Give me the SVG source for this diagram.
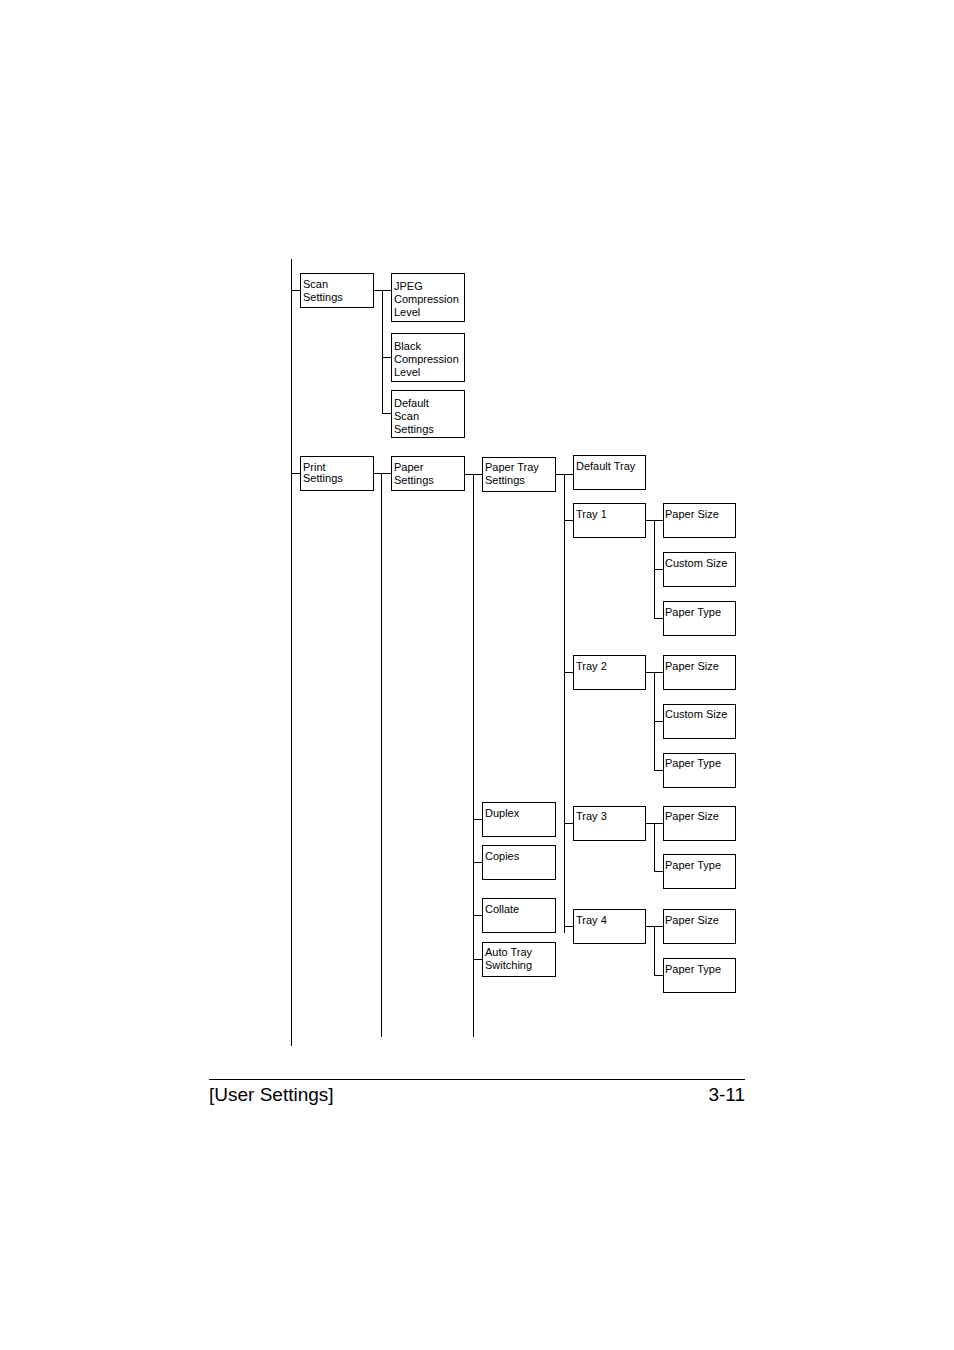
<svg xmlns="http://www.w3.org/2000/svg" width="954" height="1350" viewBox="0 0 954 1350">
<style>
rect{fill:#fff;stroke:#000;stroke-width:1}
text{font-family:"Liberation Sans",Arial,sans-serif;font-size:11px;fill:#000}
.c line{stroke:#000;stroke-width:1}
.f{font-size:19px}
</style>
<rect x="0" y="0" width="954" height="1350" style="stroke:none"/>
<g class="c">
<line x1="291.5" y1="259" x2="291.5" y2="1046"/>
<line x1="291" y1="290.5" x2="300" y2="290.5"/>
<line x1="373" y1="290.5" x2="391" y2="290.5"/>
<line x1="382.5" y1="290" x2="382.5" y2="413"/>
<line x1="382" y1="357.5" x2="391" y2="357.5"/>
<line x1="382" y1="413.5" x2="391" y2="413.5"/>
<line x1="291" y1="473.5" x2="300" y2="473.5"/>
<line x1="373" y1="473.5" x2="391" y2="473.5"/>
<line x1="381.5" y1="473" x2="381.5" y2="1037"/>
<line x1="464" y1="474.5" x2="482" y2="474.5"/>
<line x1="473.5" y1="474" x2="473.5" y2="1037"/>
<line x1="473" y1="819.5" x2="482" y2="819.5"/>
<line x1="473" y1="862.5" x2="482" y2="862.5"/>
<line x1="473" y1="915.5" x2="482" y2="915.5"/>
<line x1="473" y1="959.5" x2="482" y2="959.5"/>
<line x1="555" y1="474.5" x2="573" y2="474.5"/>
<line x1="564.5" y1="474" x2="564.5" y2="933"/>
<line x1="564" y1="520.5" x2="573" y2="520.5"/>
<line x1="564" y1="672.5" x2="573" y2="672.5"/>
<line x1="564" y1="823.5" x2="573" y2="823.5"/>
<line x1="564" y1="926.5" x2="573" y2="926.5"/>
<line x1="645" y1="520.5" x2="663" y2="520.5"/>
<line x1="654.5" y1="520" x2="654.5" y2="618"/>
<line x1="654" y1="569.5" x2="663" y2="569.5"/>
<line x1="654" y1="618.5" x2="663" y2="618.5"/>
<line x1="645" y1="672.5" x2="663" y2="672.5"/>
<line x1="654.5" y1="672" x2="654.5" y2="770"/>
<line x1="654" y1="721.5" x2="663" y2="721.5"/>
<line x1="654" y1="770.5" x2="663" y2="770.5"/>
<line x1="645" y1="823.5" x2="663" y2="823.5"/>
<line x1="654.5" y1="823" x2="654.5" y2="871"/>
<line x1="654" y1="871.5" x2="663" y2="871.5"/>
<line x1="645" y1="926.5" x2="663" y2="926.5"/>
<line x1="654.5" y1="926" x2="654.5" y2="975"/>
<line x1="654" y1="975.5" x2="663" y2="975.5"/>
<line x1="209" y1="1079.5" x2="745" y2="1079.5"/>
</g>
<g id="scan"><rect x="300.5" y="273.5" width="73" height="34"/><text x="303" y="288">Scan</text><text x="303" y="301">Settings</text></g>
<g id="jpeg"><rect x="391.5" y="273.5" width="73" height="48"/><text x="394" y="290">JPEG</text><text x="394" y="303">Compression</text><text x="394" y="316">Level</text></g>
<g id="black"><rect x="391.5" y="333.5" width="73" height="48"/><text x="394" y="350">Black</text><text x="394" y="363">Compression</text><text x="394" y="376">Level</text></g>
<g id="defscan"><rect x="391.5" y="390.5" width="73" height="47"/><text x="394" y="407">Default</text><text x="394" y="420">Scan</text><text x="394" y="433">Settings</text></g>
<g id="print"><rect x="300.5" y="456.5" width="73" height="34"/><text x="303" y="471">Print</text><text x="303" y="482">Settings</text></g>
<g id="paper"><rect x="391.5" y="456.5" width="73" height="34"/><text x="394" y="471">Paper</text><text x="394" y="484">Settings</text></g>
<g id="tray"><rect x="482.5" y="457.5" width="73" height="34"/><text x="485" y="471">Paper Tray</text><text x="485" y="484">Settings</text></g>
<g id="deftray"><rect x="573.5" y="455.5" width="72" height="34"/><text x="576" y="470">Default Tray</text></g>
<g id="t1"><rect x="573.5" y="503.5" width="72" height="34"/><text x="576" y="518">Tray 1</text></g>
<g id="t1ps"><rect x="663.5" y="503.5" width="72" height="34"/><text x="665" y="518">Paper Size</text></g>
<g id="t1cs"><rect x="663.5" y="552.5" width="72" height="34"/><text x="665" y="567">Custom Size</text></g>
<g id="t1pt"><rect x="663.5" y="601.5" width="72" height="34"/><text x="665" y="616">Paper Type</text></g>
<g id="t2"><rect x="573.5" y="655.5" width="72" height="34"/><text x="576" y="670">Tray 2</text></g>
<g id="t2ps"><rect x="663.5" y="655.5" width="72" height="34"/><text x="665" y="670">Paper Size</text></g>
<g id="t2cs"><rect x="663.5" y="704.5" width="72" height="34"/><text x="665" y="718">Custom Size</text></g>
<g id="t2pt"><rect x="663.5" y="753.5" width="72" height="34"/><text x="665" y="767">Paper Type</text></g>
<g id="t3"><rect x="573.5" y="806.5" width="72" height="34"/><text x="576" y="820">Tray 3</text></g>
<g id="t3ps"><rect x="663.5" y="806.5" width="72" height="34"/><text x="665" y="820">Paper Size</text></g>
<g id="t3pt"><rect x="663.5" y="854.5" width="72" height="34"/><text x="665" y="869">Paper Type</text></g>
<g id="t4"><rect x="573.5" y="909.5" width="72" height="34"/><text x="576" y="924">Tray 4</text></g>
<g id="t4ps"><rect x="663.5" y="909.5" width="72" height="34"/><text x="665" y="924">Paper Size</text></g>
<g id="t4pt"><rect x="663.5" y="958.5" width="72" height="34"/><text x="665" y="973">Paper Type</text></g>
<g id="duplex"><rect x="482.5" y="802.5" width="73" height="34"/><text x="485" y="817">Duplex</text></g>
<g id="copies"><rect x="482.5" y="845.5" width="73" height="34"/><text x="485" y="860">Copies</text></g>
<g id="collate"><rect x="482.5" y="898.5" width="73" height="34"/><text x="485" y="913">Collate</text></g>
<g id="auto"><rect x="482.5" y="942.5" width="73" height="34"/><text x="485" y="956">Auto Tray</text><text x="485" y="969">Switching</text></g>
<text class="f" x="209" y="1101">[User Settings]</text>
<text class="f" x="745" y="1101" text-anchor="end">3-11</text>
</svg>
